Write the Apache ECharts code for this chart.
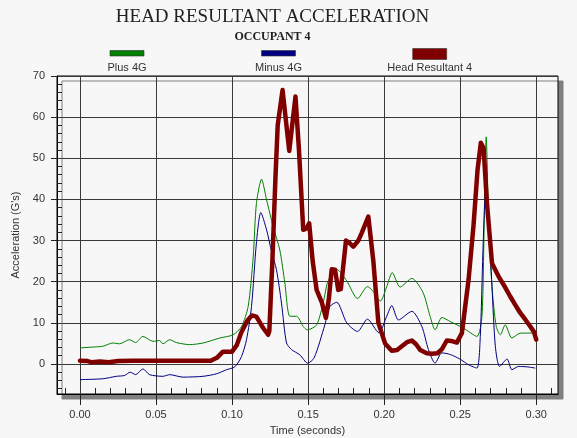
<!DOCTYPE html>
<html><head><meta charset="utf-8">
<script src="https://cdn.jsdelivr.net/npm/echarts@6/dist/echarts.min.js"></script>
<style>html,body{margin:0;padding:0;background:#f7f7f7}#c{width:577px;height:438px}</style>
</head><body><div id="c"></div>
<script>
// ---- data (time in seconds, acceleration in G's) ----
const resultT = [0.000,0.005,0.008,0.013,0.019,0.025,0.035,0.050,0.070,0.086,0.090,0.094,0.100,0.103,0.106,0.110,0.113,0.116,0.120,0.1237,0.1245,0.1265,0.1285,0.1300,0.1332,0.1376,0.1417,0.1440,0.1468,0.1490,0.1507,0.1530,0.1556,0.1590,0.1617,0.1637,0.1655,0.1677,0.1698,0.1715,0.1749,0.1770,0.1797,0.1830,0.1852,0.1896,0.1929,0.1962,0.2006,0.2050,0.2085,0.2116,0.2150,0.2182,0.2210,0.2237,0.2280,0.2314,0.2350,0.2380,0.2412,0.2440,0.2478,0.2511,0.2555,0.2587,0.2614,0.2636,0.2654,0.2676,0.2709,0.2752,0.2790,0.2829,0.2860,0.2895,0.2930,0.2961,0.2985,0.3000];
const resultV = [0.8,0.7,0.4,0.6,0.4,0.7,0.8,0.8,0.8,0.8,1.5,3.0,3.0,4.5,7.6,10.5,11.8,11.5,9.0,7.1,8,25,45,58,66.6,51.8,65.0,52,32.6,33,34.2,25,18,15,11.2,16,23,22.9,18,18.2,30,29.5,28.5,30,31.8,35.8,25,10,5.0,3.2,3.4,4.3,5.3,5.7,4.8,3.4,2.6,2.5,2.6,3.6,5.7,5.6,5.2,7.5,20.5,33.4,47.2,53.8,52.4,39,24.5,21.3,19,16.4,14.5,12.4,10.7,9.1,7.8,5.9];

const plusT = [0.000,0.008,0.015,0.0216,0.026,0.0326,0.0366,0.0414,0.048,0.0524,0.0545,0.059,0.0634,0.0721,0.0809,0.0919,0.1007,0.1062,0.1106,0.1139,0.116,0.1194,0.1227,0.127,0.1314,0.1347,0.138,0.1424,0.1468,0.1494,0.1556,0.1600,0.1630,0.1688,0.1754,0.1825,0.1890,0.1929,0.1975,0.2017,0.2053,0.2105,0.2182,0.2255,0.2302,0.2335,0.2380,0.2435,0.2522,0.2610,0.2643,0.2658,0.2671,0.2687,0.2709,0.2737,0.2764,0.2796,0.2840,0.2895,0.2994];
const plusV = [3.9,4.1,4.3,5.1,4.9,5.9,5.2,6.7,5.5,5.7,4.9,5.9,5.2,4.7,5.1,6.3,7.1,9.1,14,26,39,44.9,39.9,33.4,27.7,19.7,11.6,11.6,9.1,8.3,9.5,15,20,23,20.2,15.9,18.8,17.6,15.3,18.8,22.2,18.7,20.8,17.4,11.6,8.3,11.3,10.3,8.7,6.7,11.6,35,55.2,35,18.8,9.1,7.1,9.5,6.3,7.5,7.5];

const minusT = [0.000,0.015,0.0239,0.0293,0.033,0.0366,0.0414,0.0458,0.0545,0.059,0.0677,0.0809,0.0897,0.0963,0.1018,0.1062,0.1095,0.1128,0.116,0.1189,0.1227,0.126,0.1292,0.1325,0.1358,0.1391,0.1446,0.1497,0.1540,0.1610,0.1644,0.1688,0.1754,0.1825,0.1890,0.1965,0.2017,0.2050,0.2094,0.2182,0.2248,0.2291,0.2335,0.2380,0.2435,0.2498,0.2555,0.2610,0.2632,0.2649,0.2665,0.2671,0.2687,0.2709,0.2731,0.2759,0.2808,0.2840,0.2884,0.2939,0.2994];
const minusV = [-3.8,-3.6,-3.0,-2.8,-2.0,-2.6,-1.2,-2.6,-3.0,-2.6,-3.2,-3.0,-2.4,-1.4,-0.7,1.8,5.9,14,29.4,36.8,32.6,27.3,22.9,14.8,5.1,3.5,2.2,0.2,1.5,9.5,14,15,10,7.9,10.9,7.6,11.6,14.2,10.7,12.8,9.1,3.5,0.2,2.7,2.3,1.2,-0.2,-1.0,6.7,27,43.1,46,35,18.8,4.3,-0.6,1.2,-1.4,-0.6,-0.7,-1.0];

const xTickLabels = [0, 0.05, 0.10, 0.15, 0.20, 0.25, 0.30];
const xMinorTicks = [-0.01,0.01,0.02,0.03,0.04,0.06,0.07,0.08,0.09,0.11,0.12,0.13,0.14,0.16,0.17,0.18,0.19,0.21,0.22,0.23,0.24,0.26,0.27,0.28,0.29,0.31];
const yTickLabels = [0, 10, 20, 30, 40, 50, 60, 70];
const yMinorTicks = [-6,-4,-2,2,4,6,8,12,14,16,18,22,24,26,28,32,34,36,38,42,44,46,48,52,54,56,58,62,64,66,68];
const seriesNames = ['Plus 4G', 'Minus 4G', 'Head Resultant 4'];
const seriesColors = ['#008000', '#000080', '#800000'];

const zip = (t, v) => t.map((x, i) => [x, v[i]]);

const X_MIN = -0.0151, X_MAX = 0.3143, Y_MIN = -7.3, Y_MAX = 70;
const sans = 'Liberation Sans, Arial, sans-serif';
const serif = 'Liberation Serif, Times New Roman, serif';

const chart = echarts.init(document.getElementById('c'), null, {renderer: 'canvas'});

const legendX = [127, 278.5, 429.7];
const legendGraphics = [];
seriesNames.forEach((n, i) => {
  const h = i === 2 ? 11 : 5.5;
  const yTop = i === 2 ? 48.5 : 50.5;
  legendGraphics.push({
    type: 'rect', shape: {x: legendX[i] - 17, y: yTop, width: 34, height: h},
    style: {fill: seriesColors[i], stroke: '#333', lineWidth: 0.6}
  });
  legendGraphics.push({
    type: 'text', x: legendX[i], y: 68,
    style: {text: n, fill: '#333', font: '11px ' + sans, align: 'center', verticalAlign: 'middle', textAlign: 'center', textVerticalAlign: 'middle'}
  });
});

chart.setOption({
  backgroundColor: '#f7f7f7',
  animation: false,
  title: [
    {text: 'HEAD RESULTANT ACCELERATION', left: 267.5, textAlign: 'center', top: 3,
     textStyle: {fontFamily: serif, fontSize: 19, fontWeight: 'normal', color: '#222'}},
    {text: 'OCCUPANT 4', left: 267.5, textAlign: 'center', top: 26,
     textStyle: {fontFamily: serif, fontSize: 12, fontWeight: 'bold', color: '#222'}}
  ],
  graphic: legendGraphics,
  grid: {left: 57, right: 19, top: 76, bottom: 44, show: true, borderColor: '#000', borderWidth: 1,
         outerBoundsMode: 'none', containLabel: false,
         backgroundColor: '#f7f7f7', shadowColor: '#808080', shadowOffsetX: 5, shadowOffsetY: 5, shadowBlur: 0},
  xAxis: [
    {type: 'value', min: X_MIN, max: X_MAX, position: 'bottom',
     name: 'Time (seconds)', nameLocation: 'middle', nameGap: 31,
     nameTextStyle: {fontFamily: sans, fontSize: 11, color: '#333'},
     axisLine: {onZero: false, lineStyle: {color: '#000'}},
     axisTick: {customValues: xTickLabels, length: 11, lineStyle: {color: '#222'}},
     axisLabel: {customValues: xTickLabels, formatter: v => v.toFixed(2), fontFamily: sans, fontSize: 11, color: '#333', margin: 15},
     splitLine: {show: true, lineStyle: {color: '#3a3a3a', width: 1}}},
    {type: 'value', min: X_MIN, max: X_MAX, position: 'bottom', offset: -6,
     axisLine: {show: false, onZero: false},
     axisTick: {customValues: xMinorTicks, inside: false, length: 6, lineStyle: {color: '#222'}},
     axisLabel: {show: false}, splitLine: {show: false}}
  ],
  yAxis: [
    {type: 'value', min: Y_MIN, max: Y_MAX, position: 'left',
     name: "Acceleration (G's)", nameLocation: 'middle', nameGap: 36,
     nameTextStyle: {fontFamily: sans, fontSize: 11, color: '#333'},
     axisLine: {onZero: false, lineStyle: {color: '#000'}},
     axisTick: {customValues: yTickLabels, length: 6, lineStyle: {color: '#222'}},
     axisLabel: {customValues: yTickLabels, fontFamily: sans, fontSize: 11, color: '#333', margin: 12},
     splitLine: {show: true, lineStyle: {color: '#3a3a3a', width: 1}}},
    {type: 'value', min: Y_MIN, max: Y_MAX, position: 'left', offset: -5,
     axisLine: {show: false, onZero: false},
     axisTick: {customValues: yMinorTicks, inside: false, length: 5, lineStyle: {color: '#222'}},
     axisLabel: {show: false}, splitLine: {show: false}}
  ],
  series: [
    {name: seriesNames[0], type: 'line', data: zip(plusT, plusV), showSymbol: false, smooth: 0.25,
     lineStyle: {color: seriesColors[0], width: 1}, z: 3},
    {name: seriesNames[1], type: 'line', data: zip(minusT, minusV), showSymbol: false, smooth: 0.25,
     lineStyle: {color: seriesColors[1], width: 1}, z: 3},
    {name: seriesNames[2], type: 'line', data: zip(resultT, resultV), showSymbol: false,
     lineStyle: {color: seriesColors[2], width: 4.5, join: 'round', cap: 'round'}, z: 4}
  ]
});
</script></body></html>
